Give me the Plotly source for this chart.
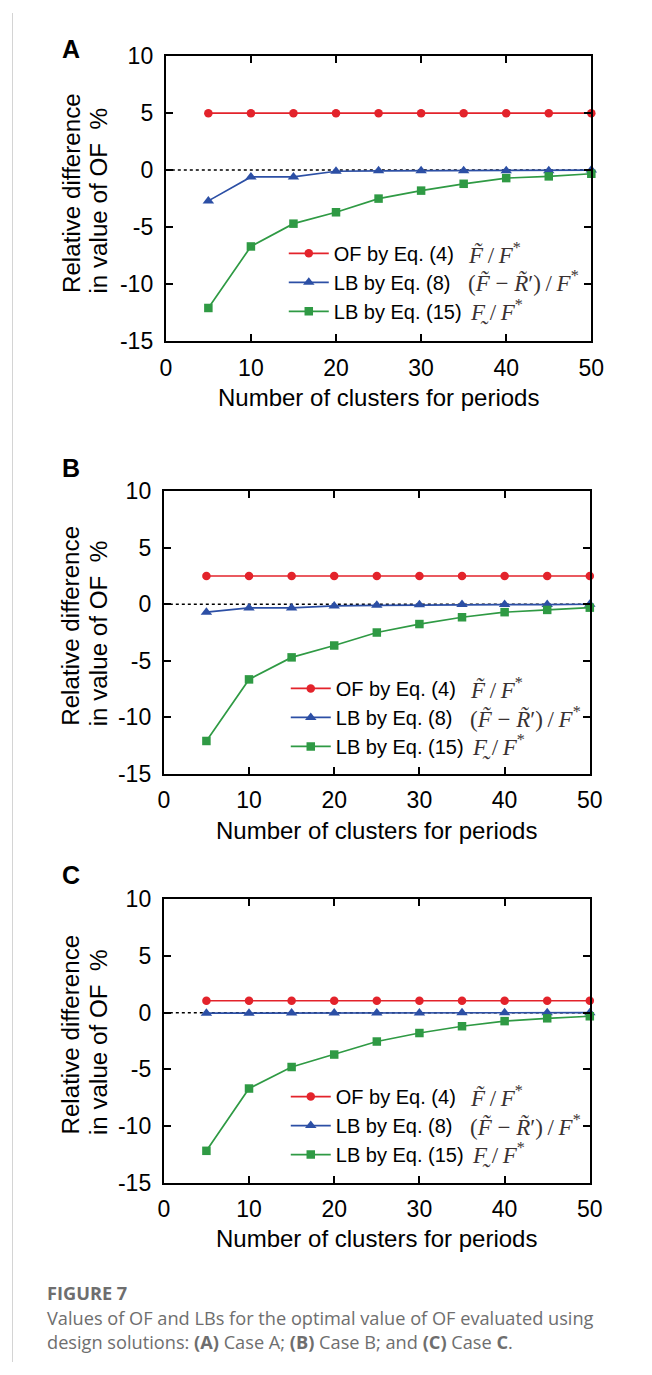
import plotly.graph_objects as go

W, H = 652, 1375

# ---------------- data ----------------
clusters = [5, 10, 15, 20, 25, 30, 35, 40, 45, 50]

of_A = [5.0, 5.0, 5.0, 5.0, 5.0, 5.0, 5.0, 5.0, 5.0, 5.0]
lb8_A = [-2.7, -0.6, -0.6, -0.1, -0.06, -0.05, -0.05, -0.05, -0.05, 0.0]
lb15_A = [-12.1, -6.7, -4.7, -3.7, -2.5, -1.8, -1.2, -0.7, -0.55, -0.32]

of_B = [2.5, 2.5, 2.5, 2.5, 2.5, 2.5, 2.5, 2.5, 2.5, 2.5]
lb8_B = [-0.7, -0.32, -0.32, -0.15, -0.09, -0.05, -0.03, -0.03, -0.03, 0.0]
lb15_B = [-12.1, -6.65, -4.7, -3.65, -2.5, -1.75, -1.15, -0.7, -0.5, -0.3]

of_C = [1.05, 1.05, 1.05, 1.05, 1.05, 1.05, 1.05, 1.05, 1.05, 1.05]
lb8_C = [-0.05, -0.05, -0.04, -0.03, -0.03, -0.03, -0.02, -0.02, -0.02, 0.0]
lb15_C = [-12.2, -6.7, -4.8, -3.7, -2.55, -1.8, -1.2, -0.75, -0.5, -0.32]

x_ticks = [0, 10, 20, 30, 40, 50]
y_ticks = [-15, -10, -5, 0, 5, 10]
y_ticktext = ["-15", "-10", "-5", "0", "5", "10"]

series_names = ["OF by Eq. (4)", "LB by Eq. (8)", "LB by Eq. (15)"]
TS = "\u2009"
math_labels = [
    "<i>F\u0303</i>" + TS + "/" + TS + "<i>F</i><sup>*</sup>",
    "(<i>F\u0303</i> \u2212 <i>R\u0303</i>\u2032)" + TS + "/" + TS + "<i>F</i><sup>*</sup>",
    "<i>F\u0330</i>" + TS + "/" + TS + "<i>F</i><sup>*</sup>",
]
panel_labels = ["A", "B", "C"]
x_title = "Number of clusters for periods"
y_title_lines = ["Relative difference", "in value of OF  %"]
caption_head = "FIGURE 7"
caption_lines = [
    "Values of OF and LBs for the optimal value of OF evaluated using",
    "design solutions: <b>(A)</b> Case A; <b>(B)</b> Case B; and <b>(C)</b> Case <b>C</b>.",
]

panel_data = [
    (of_A, lb8_A, lb15_A),
    (of_B, lb8_B, lb15_B),
    (of_C, lb8_C, lb15_C),
]

# ---------------- styling / layout ----------------
colors = ["#e3232b", "#2c4fa5", "#2f9a44"]
symbols = ["circle", "triangle-up", "square"]
msizes = [8.5, 10, 8.5]
SANS = "Liberation Sans, Arial, Helvetica, sans-serif"
SERIF = "Liberation Serif, Times New Roman, serif"
CAPF = "Open Sans, sans-serif"
LEG_FS = 20
ROW = LEG_FS * 1.3 + 3  # plotly legend row pitch (figure px)
ITEMW = 40

# the page photograph maps figure px -> picture px as o + s * p;
# target positions below are in picture px and are converted back.
OX, OY, SX, SY = 6.0, 11.0, 0.972, 0.984


def fx(x):
    return (x - OX) / SX


def fy(y):
    return (y - OY) / SY


def px(x):  # picture px -> paper fraction
    return fx(x) / W


def py(y):
    return 1 - fy(y) / H


# plot areas in picture px: left, right, top, bottom
boxes = [
    (166, 592, 54.3, 340),
    (164, 590.5, 490.7, 774),
    (164, 590.5, 900, 1184),
]
letter_y = [47.5, 467.5, 875.5]

fig = go.Figure()
annotations = []
shapes = []
layout_axes = {}

for i, (box, data) in enumerate(zip(boxes, panel_data)):
    left, right, top, bottom = box
    n = "" if i == 0 else str(i + 1)
    xa, ya = "x" + n, "y" + n
    leg = "legend" + n
    for k in range(3):
        fig.add_trace(go.Scatter(
            x=clusters, y=data[k], mode="lines+markers",
            name=series_names[k],
            line=dict(color=colors[k], width=1.7),
            marker=dict(symbol=symbols[k], size=msizes[k], color=colors[k]),
            xaxis=xa, yaxis=ya, legend=leg, cliponaxis=False,
        ))
    axis_common = dict(
        showline=True, linecolor="black", linewidth=2, mirror="ticks",
        ticks="inside", ticklen=7, tickwidth=2, tickcolor="black",
        showgrid=False, zeroline=False,
        tickfont=dict(family=SANS, size=23, color="black"),
    )
    layout_axes["xaxis" + n] = dict(
        axis_common, domain=[px(left), px(right)], range=[0, 50],
        tickvals=x_ticks, anchor=ya, ticklabelstandoff=5,
    )
    layout_axes["yaxis" + n] = dict(
        axis_common, domain=[py(bottom), py(top)], range=[-15, 10],
        tickvals=y_ticks, ticktext=y_ticktext, anchor=xa, ticklabelstandoff=6,
    )
    # legend rows (figure px)
    row2 = fy(top + 227.4)
    row1 = row2 - ROW
    layout_axes[leg] = dict(
        x=(fx(332.7 - (left - 166)) - (ITEMW + 10)) / W, y=1 - (row1 - 21) / H,
        xanchor="left", yanchor="top",
        bgcolor="rgba(0,0,0,0)", borderwidth=0,
        font=dict(family=SANS, size=LEG_FS, color="black"),
        tracegroupgap=0, itemwidth=ITEMW,
    )
    for k in range(3):
        annotations.append(dict(
            xref="paper", yref="paper", x=px(467 - (left - 166) + (2 if k == 2 else 0)),
            y=1 - (row1 + ROW * k - 1) / H,
            xanchor="left", yanchor="middle", showarrow=False,
            text=math_labels[k],
            font=dict(family=SERIF, size=23, color="#3a3232"),
        ))
    shapes.append(dict(
        type="line", xref=xa + " domain", yref=ya, x0=0, x1=1, y0=0, y1=0,
        line=dict(color="black", width=1.5, dash="dot"), layer="below",
    ))
    annotations.append(dict(
        xref="paper", yref="paper", x=px(60.5), y=py(letter_y[i]),
        xanchor="left", yanchor="middle", showarrow=False,
        text="<b>" + panel_labels[i] + "</b>",
        font=dict(family=SANS, size=25, color="black"),
    ))
    annotations.append(dict(
        xref="paper", yref="paper", x=px((left + right) / 2), y=py(bottom + 56.5),
        xanchor="center", yanchor="middle", showarrow=False, text=x_title,
        font=dict(family=SANS, size=24, color="black"),
    ))
    for j, (lx, txt) in enumerate(zip([71, 98.5], y_title_lines)):
        annotations.append(dict(
            xref="paper", yref="paper", x=px(lx), y=py(bottom - 46),
            xanchor="center", yanchor="bottom", showarrow=False, text=txt,
            textangle=-90,
            font=dict(family=SANS, size=24.2, color="black"),
        ))

annotations.append(dict(
    xref="paper", yref="paper", x=px(45), y=py(1295),
    xanchor="left", yanchor="middle", showarrow=False,
    text="<b>" + caption_head + "</b>",
    font=dict(family=CAPF, size=18.2, color="#6e6e6e"),
))
for j, line in enumerate(caption_lines):
    annotations.append(dict(
        xref="paper", yref="paper", x=px(45), y=py(1320 + 23.5 * j),
        xanchor="left", yanchor="middle", showarrow=False, text=line,
        font=dict(family=CAPF, size=18.2, color="#6e6e6e"),
    ))

shapes.append(dict(
    type="line", xref="paper", yref="paper", x0=px(12.5), x1=px(12.5), y0=0, y1=1,
    line=dict(color="#d4d4d4", width=1),
))

fig.update_layout(
    width=W, height=H, margin=dict(l=0, r=0, t=0, b=0),
    paper_bgcolor="white", plot_bgcolor="white",
    showlegend=True, annotations=annotations, shapes=shapes,
    **layout_axes,
)

fig.write_html(
    "out.html",
    config={"displayModeBar": False},
    post_script=(
        "document.body.style.margin='0px';"
        "document.body.style.overflow='hidden';"
        "document.documentElement.style.overflow='hidden';"
    ),
)
